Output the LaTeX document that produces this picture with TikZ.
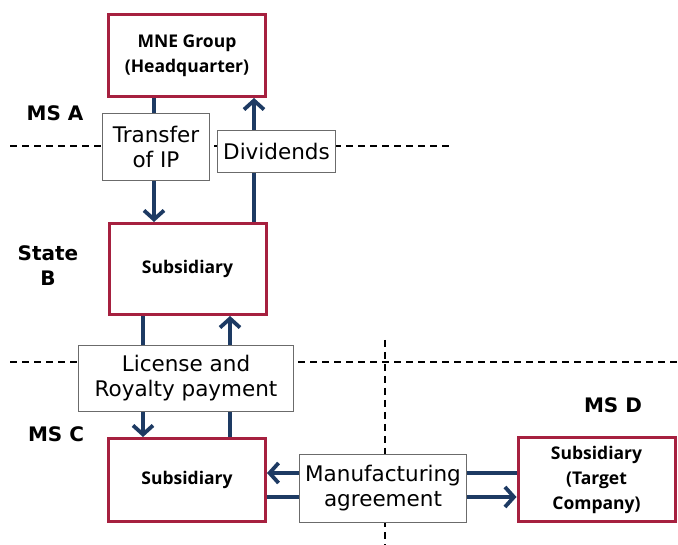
\documentclass[tikz,border=0pt]{standalone}
\usepackage{fontspec}
\setmainfont{DejaVu Sans}
\newfontfamily\entityfont{Open Sans}
\usepackage{xcolor}
\definecolor{crimson}{HTML}{A6203F}
\definecolor{navy}{HTML}{1D3A63}
\definecolor{frame}{HTML}{6B6B6B}
\usepackage{tikz}
\usetikzlibrary{arrows.meta,backgrounds}
\tikzset{
  entity/.style={draw=crimson, line width=3pt, fill=white, align=center, inner sep=0pt,
    font=\entityfont\bfseries\fontsize{17.5}{25}\selectfont, minimum width=#1},
  entity/.default=157pt,
  flowlabel/.style={draw=frame, line width=1.5pt, fill=white, align=center, inner sep=0pt,
    font=\fontsize{21.5}{25}\selectfont},
  msname/.style={font=\bfseries\fontsize{20}{25}\selectfont, align=center},
  flow/.style={draw=navy, line width=3.8pt, -{Straight Barb[length=9pt,width=20pt]}},
  divider/.style={dash pattern=on 7pt off 5pt, line width=1.2pt},
}
\begin{document}
\begin{tikzpicture}[x=1pt, y=-1pt]
  \useasboundingbox (0,0) rectangle (678,545);
  \node[entity, minimum height=82pt] (hq) at (187,55.5) {MNE Group\\(Headquarter)};
  \node[entity, minimum height=91pt] (subB) at (187.5,269) {Subsidiary};
  \node[entity, minimum height=83pt] (subC) at (187,480) {Subsidiary};
  \node[entity, minimum height=84pt] (subD) at (596.5,479.5) {Subsidiary\\(Target\\Company)};
  \node[flowlabel, minimum width=107pt, minimum height=67pt] (ip) at (156,147) {Transfer\\of IP};
  \node[flowlabel, minimum width=118pt, minimum height=42pt] (div) at (276.5,151.5) {Dividends};
  \node[flowlabel, minimum width=215pt, minimum height=66pt] (lic) at (186,378.5) {License and\\Royalty payment};
  \node[flowlabel, minimum width=167pt, minimum height=68pt] (mfg) at (383,488.5) {Manufacturing\\agreement};
  \node[msname] (msA) at (55,113) {MS A};
  \node[msname] (stB) at (48,265.5) {State\\B};
  \node[msname] (msC) at (56,434) {MS C};
  \node[msname] (msD) at (613,405) {MS D};
  \begin{scope}[on background layer]
    \draw[divider] (10,146) -- (450,146);
    \draw[divider] (10,362) -- (678,362);
    \draw[divider] (385,340) -- (385,545);
    \draw[flow] ([xshift=-33pt]hq.south) -- ([xshift=-33pt]hq.south |- subB.north);
    \draw[flow] ([xshift=66.5pt]subB.north) -- ([xshift=66.5pt]subB.north |- hq.south);
    \draw[flow] ([xshift=-44.5pt]subB.south) -- ([xshift=-44.5pt]subB.south |- subC.north);
    \draw[flow] ([xshift=43pt]subC.north) -- ([xshift=43pt]subC.north |- subB.south);
    \draw[flow] ([yshift=6.5pt]subD.west) -- ([yshift=6.5pt]subD.west -| subC.east);
    \draw[flow] ([yshift=-17pt]subC.east) -- ([yshift=-17pt]subC.east -| subD.west);
  \end{scope}
\end{tikzpicture}
\end{document}
